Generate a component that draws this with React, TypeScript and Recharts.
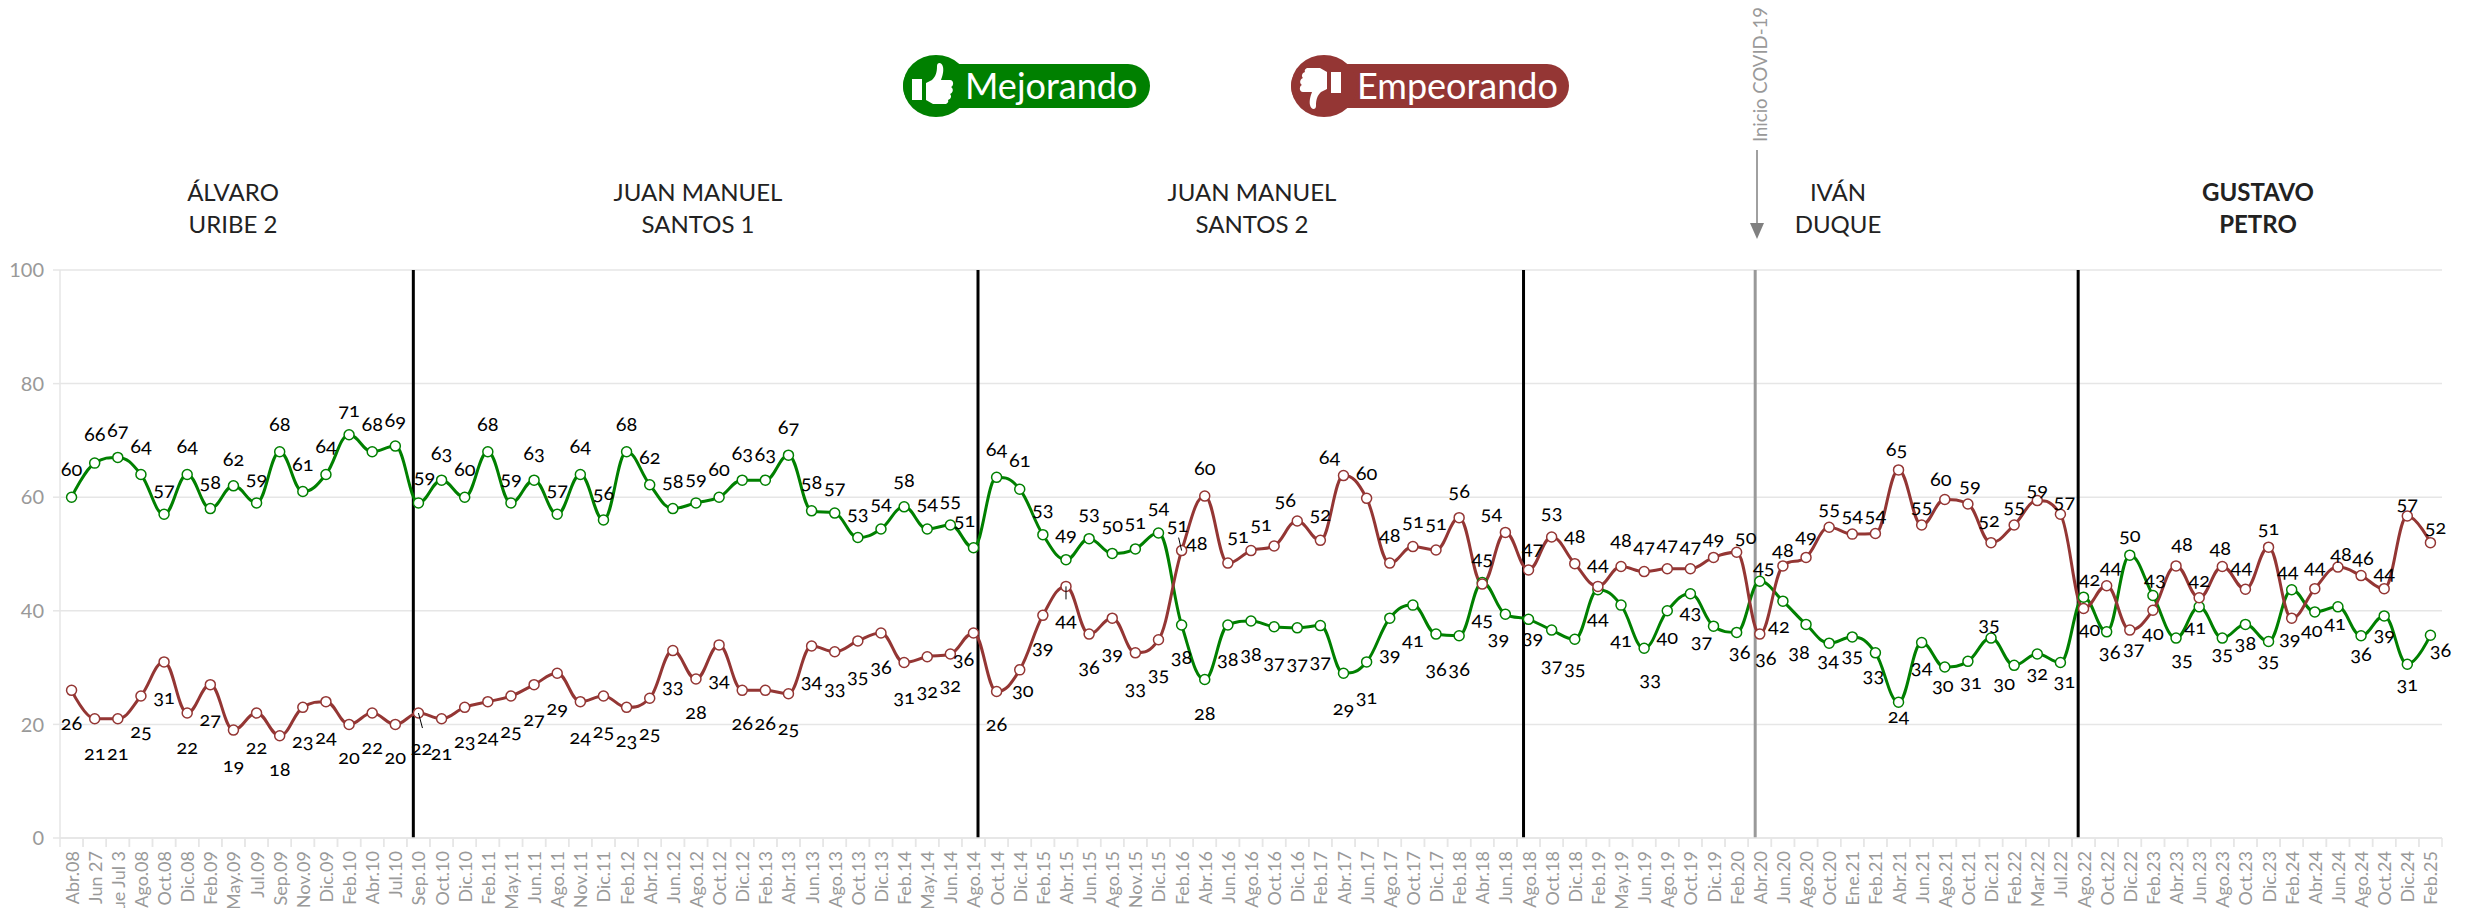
import { CartesianGrid, LabelList, Line, LineChart, ReferenceLine, XAxis, YAxis } from 'recharts';

const months = [
  'Abr.08', 'Tue Jun 27', 'Tue Jul 3', 'Ago.08', 'Oct.08', 'Dic.08', 'Feb.09', 'May.09', 'Jul.09', 'Sep.09', 'Nov.09', 'Dic.09',
  'Feb.10', 'Abr.10', 'Jul.10', 'Sep.10', 'Oct.10', 'Dic.10', 'Feb.11', 'May.11', 'Jun.11', 'Ago.11', 'Nov.11', 'Dic.11',
  'Feb.12', 'Abr.12', 'Jun.12', 'Ago.12', 'Oct.12', 'Dic.12', 'Feb.13', 'Abr.13', 'Jun.13', 'Ago.13', 'Oct.13', 'Dic.13',
  'Feb.14', 'May.14', 'Jun.14', 'Ago.14', 'Oct.14', 'Dic.14', 'Feb.15', 'Abr.15', 'Jun.15', 'Ago.15', 'Nov.15', 'Dic.15',
  'Feb.16', 'Abr.16', 'Jun.16', 'Ago.16', 'Oct.16', 'Dic.16', 'Feb.17', 'Abr.17', 'Jun.17', 'Ago.17', 'Oct.17', 'Dic.17',
  'Feb.18', 'Abr.18', 'Jun.18', 'Ago.18', 'Oct.18', 'Dic.18', 'Feb.19', 'May.19', 'Jun.19', 'Ago.19', 'Oct.19', 'Dic.19',
  'Feb.20', 'Abr.20', 'Jun.20', 'Ago.20', 'Oct.20', 'Ene.21', 'Feb.21', 'Abr.21', 'Jun.21', 'Ago.21', 'Oct.21', 'Dic.21',
  'Feb.22', 'Mar.22', 'Jul.22', 'Ago.22', 'Oct.22', 'Dic.22', 'Feb.23', 'Abr.23', 'Jun.23', 'Ago.23', 'Oct.23', 'Dic.23',
  'Feb.24', 'Abr.24', 'Jun.24', 'Ago.24', 'Oct.24', 'Dic.24', 'Feb.25',
];

const mejorando = [
  60, 66, 67, 64, 57, 64, 58, 62, 59, 68, 61, 64, 71, 68, 69, 59, 63, 60, 68, 59, 63, 57, 64, 56,
  68, 62.2, 58, 59, 60, 63, 63, 67.4, 57.6, 57.2, 52.9, 54.4, 58.3, 54.4, 55.1, 51.1, 63.5, 61.4, 53.4, 49, 52.7, 50.1, 50.9, 53.7, 37.5, 27.9,
  37.5, 38.2, 37.2, 37, 37.4, 29, 31, 38.7, 41, 35.9, 35.6, 45, 39.4, 38.5, 36.6, 35, 43.7, 41, 33.4, 40, 43, 37.3, 36.2, 45.2, 41.7, 37.6,
  34.3, 35.4, 32.6, 23.9, 34.4, 30.1, 31.1, 35.2, 30.4, 32.4, 30.9, 42.4, 36.3, 49.8, 42.7, 35.2, 40.7, 35.2, 37.6, 34.6, 43.7, 39.8, 40.7, 35.6, 39.1, 30.6, 35.7,
];

const empeorando = [
  26, 21, 21, 25, 31, 22, 27, 19, 22, 18, 23, 24, 20, 22, 20, 22, 21, 23, 24, 25, 27, 29, 24, 25,
  23, 24.6, 33, 28, 34, 26, 26, 25.4, 33.8, 32.8, 34.7, 36.1, 30.9, 31.9, 32.4, 36.1, 25.8, 29.6, 39.2, 44.3, 35.9, 38.7, 32.6, 34.9, 50.6, 60.2,
  48.4, 50.6, 51.4, 55.8, 52.4, 63.8, 59.8, 48.4, 51.3, 50.7, 56.4, 44.7, 53.8, 47.2, 53, 48.3, 44.3, 47.8, 46.9, 47.4, 47.4, 49.4, 50.3, 35.9, 47.9, 49.4,
  54.7, 53.5, 53.6, 64.8, 55.1, 59.6, 58.8, 52, 55.1, 59.4, 57, 40.4, 44.4, 36.6, 40.1, 47.9, 42.3, 47.8, 43.8, 51.2, 38.7, 43.9, 47.7, 46.2, 43.9, 56.7, 52,
];

const yTicks = [0, 20, 40, 60, 80, 100];

// presidents, [first line, second line, centre x, bold]
const periods: [string, string, number, boolean][] = [
  ['ÁLVARO', 'URIBE 2', 233, false],
  ['JUAN MANUEL', 'SANTOS 1', 698, false],
  ['JUAN MANUEL', 'SANTOS 2', 1252, false],
  ['IVÁN', 'DUQUE', 1838, false],
  ['GUSTAVO', 'PETRO', 2258, true],
];

// term changes sit between categories, so they go on a hidden numeric axis
const termChanges = [15.13, 39.31, 62.67, 86.42];
const covidStart = 72.59;

// data label offsets, hand placed like the original
const mejorandoDy = [
  -29, -30, -28, -29, -26, -29, -28, -28, -26, -29, -29, -29, -26, -29, -27, -28, -28, -29, -29, -26, -28, -26, -29, -28,
  -29, -29, -29, -26, -29, -28, -27, -29, -30, -27, -26, -27, -28, -27, -26, -29, -29, -30, -27, -27, -27, -29, -28, -27, 31, 32,
  33, 32, 34, 34, 34, 34, 34, 35, 34, 34, 32, 36, 23, 17, 34, 28, 27, 34, 30, 25, 17, 14, 19, -15, 24, 27,
  16, 17, 21, 13, 23, 17, 20, -15, 17, 18, 18, -19, 19, -21, -17, 20, 19, 14, 18, 18, -20, 17, 15, 17, 17, 19, 14,
];
const empeorandoDy = [
  32, 33, 33, 34, 34, 33, 33, 34, 33, 32, 33, 34, 32, 33, 32, 34, 33, 33, 34, 34, 33, 34, 34, 34,
  32, 34, 34, 32, 34, 32, 32, 33, 34, 35, 34, 33, 34, 33, 30, 25, 32, 19, 31, 33, 32, 34, 34, 33, -27, -29,
  -21, -16, -23, -22, -27, -20, -26, -29, -27, -28, -28, -27, -20, -23, -26, -29, -23, -27, -27, -26, -24, -20, -16, 23, -17, -22,
  -20, -20, -20, -22, -20, -21, -20, -24, -20, -13, -14, 19, -20, 17, 22, -23, -19, -19, -23, -20, 19, -23, -14, -19, -17, -14, -17,
];
const mejorandoDx: Record<number, number> = {
  15: 6, 39: -9, 62: -7, 63: 4, 68: 6, 71: -12, 72: 3, 73: 4, 74: -4, 75: -7, 76: -1, 78: -2, 81: -2, 82: 3, 83: -2, 84: -10,
  86: 4, 87: 6, 88: 3, 90: 2, 91: 6, 92: -4, 96: -4, 97: -3, 98: -3, 102: 10,
};
const empeorandoDx: Record<number, number> = {
  15: 3, 39: -10, 41: 3, 48: -4, 50: -31, 51: -13, 52: -13, 53: -12, 55: -14, 62: -14, 63: 4, 72: 9, 73: 6, 79: -2, 81: -4, 82: 2,
  83: -2, 86: 4, 87: 6, 88: 4, 89: 4, 91: 6, 93: -2, 94: -4, 96: -2, 98: 3, 99: 2, 102: 5,
};
// short connector lines, only on the red series
const empeorandoLeaders: Record<number, [number, number]> = {
  15: [4, 15],
  43: [0, 13],
  48: [-3, -13],
};

const data = months.map((month, i) => ({ month, mejorando: mejorando[i], empeorando: empeorando[i] }));

const GREEN = '#008000';
const RED = '#943634';
const GRID = '#e6e6e6';
const AXIS_TEXT = '#999999';
const FONT = 'Lato, "Open Sans", sans-serif';
const CHART_W = 2471;
const CHART_H = 908;
const PLOT_LEFT = 60;
const PLOT_RIGHT = 29;
const step = (CHART_W - PLOT_LEFT - PLOT_RIGHT) / months.length;

// same control points as a Highcharts spline
function splineCurve(context: any) {
  let pts: [number, number][] = [];
  return {
    areaStart() {},
    areaEnd() {},
    lineStart() {
      pts = [];
    },
    point(x: number, y: number) {
      pts.push([+x, +y]);
    },
    lineEnd() {
      const right: [number, number][] = [];
      const left: [number, number][] = [];
      pts.forEach(([x, y], i) => {
        if (i === 0 || i === pts.length - 1) {
          left.push([x, y]);
          right.push([x, y]);
          return;
        }
        const [lx, ly] = pts[i - 1];
        const [nx, ny] = pts[i + 1];
        const lcx = (1.5 * x + lx) / 2.5;
        let lcy = (1.5 * y + ly) / 2.5;
        const rcx = (1.5 * x + nx) / 2.5;
        let rcy = (1.5 * y + ny) / 2.5;
        const correction = ((rcy - lcy) * (rcx - x)) / (rcx - lcx) + y - rcy;
        lcy += correction;
        rcy += correction;
        if (lcy > ly && lcy > y) {
          lcy = Math.max(ly, y);
          rcy = 2 * y - lcy;
        } else if (lcy < ly && lcy < y) {
          lcy = Math.min(ly, y);
          rcy = 2 * y - lcy;
        }
        if (rcy > ny && rcy > y) {
          rcy = Math.max(ny, y);
          lcy = 2 * y - rcy;
        } else if (rcy < ny && rcy < y) {
          rcy = Math.min(ny, y);
          lcy = 2 * y - rcy;
        }
        left.push([lcx, lcy]);
        right.push([rcx, rcy]);
      });
      pts.forEach(([x, y], i) => {
        if (i === 0) context.moveTo(x, y);
        else context.bezierCurveTo(right[i - 1][0], right[i - 1][1], left[i][0], left[i][1], x, y);
      });
    },
  };
}

function MonthTick({ x, y, payload }: any) {
  return (
    <g>
      <line x1={x - step / 2} x2={x - step / 2} y1={y - 8} y2={y + 1} stroke={GRID} strokeWidth={1.5} />
      <line x1={x + step / 2} x2={x + step / 2} y1={y - 8} y2={y + 1} stroke={GRID} strokeWidth={1.5} />
      <text
        x={x}
        y={851}
        transform={`rotate(-90 ${x} 851)`}
        textAnchor="end"
        dominantBaseline="central"
        fontFamily={FONT}
        fontSize={18}
        fill={AXIS_TEXT}
      >
        {payload.value}
      </text>
    </g>
  );
}

function pointLabel(dyList: number[], dxList: Record<number, number>, leaders: Record<number, [number, number]> = {}) {
  return ({ x, y, value, index }: any) => {
    const leader = leaders[index];
    return (
      <g>
        {leader && <line x1={x} y1={y} x2={x + leader[0]} y2={y + leader[1]} stroke="#000" strokeWidth={1} />}
        <text
          x={x + (dxList[index] || 0)}
          y={y + dyList[index]}
          textAnchor="middle"
          dominantBaseline="central"
          fontFamily={FONT}
          fontSize={20}
          fill="#000"
          style={{ fontFeatureSettings: '"onum"' }}
        >
          {Math.round(value)}
        </text>
      </g>
    );
  };
}

const THUMB = 'M-10,-3 L-4,-6 C0,-10 1,-14 1,-20 C1,-24 6,-24 7,-19 C8,-14 6,-9 5,-6 L14,-6 C18,-6 18,0 15,1 C18,3 17,7 14,8 C16,10 15,13 12,14 C13,16 11,18 9,18 L-3,18 L-10,14 Z';

function Badge({ x, right, color, label, textX, flip }: { x: number; right: number; color: string; label: string; textX: number; flip?: boolean }) {
  return (
    <g>
      <rect x={x} y={64} width={right - x} height={44} rx={22} fill={color} />
      <ellipse cx={x + 33} cy={86} rx={33} ry={31} fill={color} />
      <g transform={flip ? `translate(${x + 26} 86) rotate(180)` : `translate(${x + 33} 86)`} fill="#fff">
        <rect x={-24} y={-7} width={10} height={21} />
        <path d={THUMB} />
      </g>
      <text x={textX} y={85} dominantBaseline="central" fontFamily={FONT} fontSize={36} fill="#fff">
        {label}
      </text>
    </g>
  );
}

export default function App() {
  return (
    <div style={{ position: 'absolute', left: 0, top: 0, width: CHART_W, height: CHART_H, overflow: 'hidden', background: '#fff' }}>
      <LineChart width={CHART_W} height={CHART_H} data={data} margin={{ top: 270, right: PLOT_RIGHT, bottom: 0, left: 0 }}>
        <CartesianGrid vertical={false} stroke={GRID} strokeWidth={1.5} />
        <XAxis dataKey="month" scale="band" interval={0} height={70} tick={<MonthTick />} tickLine={false} axisLine={{ stroke: GRID, strokeWidth: 1.5 }} />
        <XAxis xAxisId="pos" type="number" domain={[0, 102]} allowDataOverflow hide />
        <YAxis
          width={PLOT_LEFT}
          domain={[0, 100]}
          ticks={yTicks}
          interval={0}
          tickSize={7}
          tickMargin={9}
          tick={{ fontFamily: FONT, fontSize: 20, fill: AXIS_TEXT }}
          tickLine={{ stroke: GRID, strokeWidth: 1.5 }}
          axisLine={{ stroke: GRID, strokeWidth: 1.5 }}
        />
        {termChanges.map((pos) => (
          <ReferenceLine key={pos} x={pos} xAxisId="pos" stroke="#000" strokeWidth={3} />
        ))}
        <ReferenceLine x={covidStart} xAxisId="pos" stroke="#999999" strokeWidth={3} />
        <Line
          dataKey="mejorando"
          type={splineCurve as any}
          stroke={GREEN}
          strokeWidth={3}
          dot={{ r: 5, fill: '#fff', stroke: GREEN, strokeWidth: 1.5 }}
          activeDot={false}
          isAnimationActive={false}
        >
          <LabelList dataKey="mejorando" content={pointLabel(mejorandoDy, mejorandoDx)} />
        </Line>
        <Line
          dataKey="empeorando"
          type={splineCurve as any}
          stroke={RED}
          strokeWidth={3}
          dot={{ r: 5, fill: '#fff', stroke: RED, strokeWidth: 1.5 }}
          activeDot={false}
          isAnimationActive={false}
        >
          <LabelList dataKey="empeorando" content={pointLabel(empeorandoDy, empeorandoDx, empeorandoLeaders)} />
        </Line>
      </LineChart>

      <svg width={CHART_W} height={260} style={{ position: 'absolute', left: 0, top: 0 }}>
        <Badge x={903} right={1150} color={GREEN} label="Mejorando" textX={965} />
        <Badge x={1291} right={1569} color={RED} label="Empeorando" textX={1357} flip />
        {periods.map(([first, second, cx, bold]) => (
          <text key={first + second} textAnchor="middle" fontFamily={FONT} fontSize={24} fontWeight={bold ? 700 : 400} fill="#222">
            <tspan x={cx} y={201}>{first}</tspan>
            <tspan x={cx} y={233}>{second}</tspan>
          </text>
        ))}
        <text
          x={1759}
          y={142}
          transform="rotate(-90 1759 142)"
          dominantBaseline="central"
          fontFamily={FONT}
          fontSize={20}
          textLength={135}
          lengthAdjust="spacingAndGlyphs"
          fill={AXIS_TEXT}
        >
          Inicio COVID-19
        </text>
        <line x1={1757} y1={150} x2={1757} y2={226} stroke="#808080" strokeWidth={1.5} />
        <path d="M1750,223 L1764,223 L1757,239 Z" fill="#808080" />
      </svg>
    </div>
  );
}
